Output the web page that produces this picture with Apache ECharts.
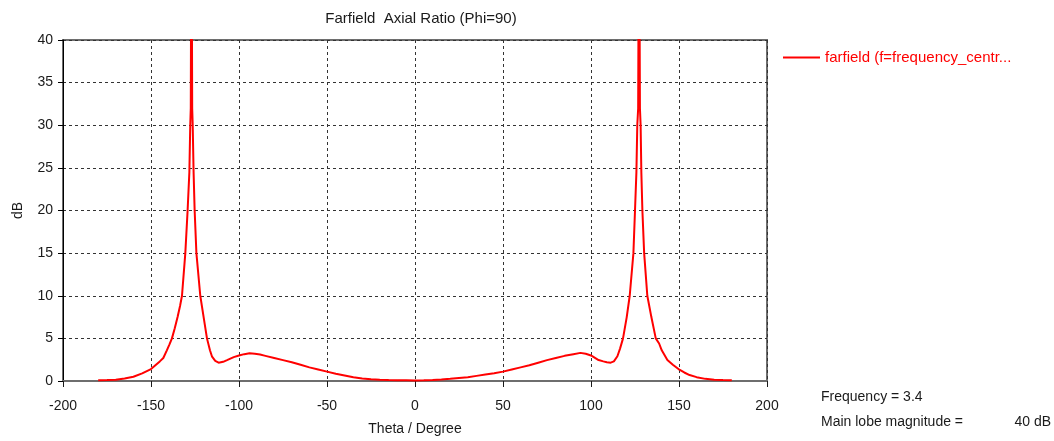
<!DOCTYPE html>
<html><head><meta charset="utf-8">
<script src="https://cdn.jsdelivr.net/npm/echarts@6/dist/echarts.min.js"></script>
<style>html,body{margin:0;padding:0;background:#fff}#c{width:1054px;height:441px}</style>
</head><body><div id="c"></div>
<script>
const seriesName = 'farfield (f=frequency_centr...';
const titleText = 'Farfield  Axial Ratio (Phi=90)';
const xName = 'Theta / Degree';
const yName = 'dB';
const infoLines = ['Frequency = 3.4', 'Main lobe magnitude =', '40 dB'];

const theta = [-180,-175,-170,-165,-160,-155,-150,-145,-143,-141,-139.5,-138.1,-136.5,-134.9,-133.5,-132.4,-130.5,-129.2,-128.2,-127.7,-127.4,-127,-126.6,-126.3,-125.8,-125.2,-124.2,-122,-120.1,-118.2,-116.5,-115.3,-113.5,-111.6,-109,-106.8,-103,-100,-97,-94,-91,-88,-85,-80,-75,-70,-65,-60,-55,-50,-45,-40,-35,-30,-25,-20,-15,-10,-5,0,
  5,10,15,20,25,30,35,40,45,50,55,60,65,70,75,80,85,90,94,97,100,104.3,107,109,111.2,113,115,116.5,118.2,120.3,122,124.1,125,125.8,126.3,126.8,127.3,127.8,128.2,128.6,129.2,130.2,132,134.3,136.8,138.7,140.2,143.4,146.5,149.7,153,156,160,165,170,175,180];
const axialRatio = [0.1,0.12,0.15,0.3,0.5,0.9,1.4,2.3,2.7,3.6,4.3,5.0,6.2,7.5,8.8,10,15,20,24.5,30,32,60,32,30,24.5,20,15,10,7.5,5.0,3.6,2.85,2.35,2.15,2.25,2.45,2.8,3.0,3.15,3.25,3.2,3.1,2.95,2.7,2.45,2.2,1.9,1.6,1.35,1.1,0.85,0.65,0.45,0.3,0.2,0.15,0.12,0.1,0.08,0.05,
  0.08,0.12,0.18,0.25,0.35,0.45,0.6,0.75,0.9,1.1,1.35,1.6,1.85,2.15,2.45,2.7,2.95,3.15,3.3,3.2,3.0,2.46,2.3,2.2,2.15,2.3,2.9,3.8,5.0,7.5,10,15,20,24.5,30,32,60,32,30,24.5,20,15,10,7.5,5.0,4.4,3.6,2.46,1.9,1.4,1.0,0.7,0.45,0.25,0.15,0.12,0.1];

const FONT = 'Liberation Sans';
const data = theta.map((t, i) => [t, axialRatio[i]]);
const chart = echarts.init(document.getElementById('c'), null, {renderer: 'canvas'});
chart.setOption({
  animation: false,
  backgroundColor: '#fff',
  textStyle: {fontFamily: FONT},
  title: {text: titleText, left: 416, top: 6, textAlign: 'center',
    textStyle: {fontFamily: FONT, fontSize: 15, fontWeight: 'normal', color: '#1a1a1a'}},
  legend: {left: 778, top: 45, icon: 'rect', itemWidth: 37, itemHeight: 2, itemGap: 6,
    textStyle: {fontFamily: FONT, fontSize: 15, color: '#ff0000'}, data: [seriesName]},
  grid: {left: 63, right: 287, top: 40, bottom: 60, show: true, borderColor: '#6e6e6e', borderWidth: 2, backgroundColor: 'transparent'},
  xAxis: {type: 'value', min: -200, max: 200, interval: 50,
    name: xName, nameLocation: 'middle', nameGap: 41,
    nameTextStyle: {fontFamily: FONT, fontSize: 14, color: '#1a1a1a'},
    axisLine: {show: true, onZero: false, lineStyle: {color: '#6e6e6e', width: 2}},
    axisTick: {show: true, length: 6, lineStyle: {color: '#1a1a1a'}},
    axisLabel: {fontFamily: FONT, fontSize: 14, color: '#1a1a1a', margin: 18},
    splitLine: {show: true, lineStyle: {color: '#333', type: [3, 3], width: 1}}},
  yAxis: {type: 'value', min: 0, max: 40, interval: 5,
    name: yName, nameLocation: 'middle', nameGap: 38, nameRotate: 90,
    nameTextStyle: {fontFamily: FONT, fontSize: 14, color: '#1a1a1a'},
    axisLine: {show: true, onZero: false, lineStyle: {color: '#000', width: 1}},
    axisTick: {show: true, length: 5, lineStyle: {color: '#000'}},
    axisLabel: {fontFamily: FONT, fontSize: 14, color: '#1a1a1a', margin: 10},
    splitLine: {show: true, lineStyle: {color: '#333', type: [3, 3], width: 1}}},
  series: [{name: seriesName, type: 'line', data: data, showSymbol: false, symbol: 'none',
    clip: true, lineStyle: {color: '#ff0000', width: 2}, itemStyle: {color: '#ff0000'}}],
  graphic: [
    {type: 'text', left: 821, top: 390, style: {text: infoLines[0], fontFamily: FONT, fontSize: 14, fill: '#1a1a1a'}},
    {type: 'text', left: 821, top: 415, style: {text: infoLines[1], fontFamily: FONT, fontSize: 14, fill: '#1a1a1a'}},
    {type: 'text', right: 3, top: 415, style: {text: infoLines[2], fontFamily: FONT, fontSize: 14, fill: '#1a1a1a'}}
  ]
});
</script></body></html>
